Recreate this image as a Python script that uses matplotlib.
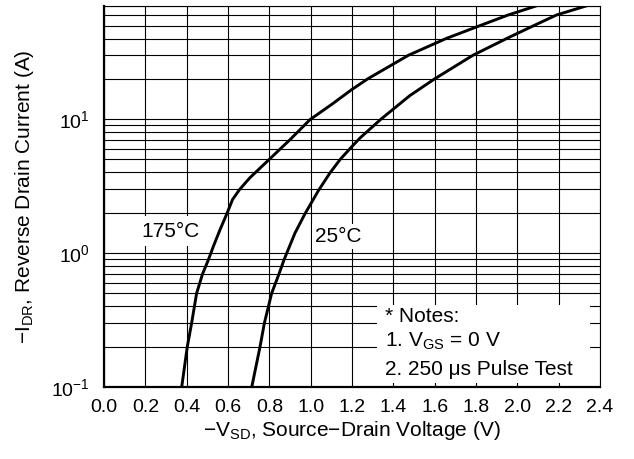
import matplotlib
matplotlib.use("Agg")
import matplotlib.pyplot as plt
from matplotlib.patches import Rectangle
from matplotlib.ticker import LogLocator, NullFormatter

plt.rcParams['font.family'] = ['Liberation Sans', 'DejaVu Sans']
plt.rcParams['mathtext.fontset'] = 'custom'
plt.rcParams['mathtext.rm'] = 'Liberation Sans'
plt.rcParams['mathtext.it'] = 'Liberation Sans'
plt.rcParams['mathtext.bf'] = 'Liberation Sans:bold'

# Data
v_175 = [0.376, 0.403, 0.424, 0.448, 0.477, 0.505, 0.529, 0.561, 0.594, 0.622,
         0.655, 0.705, 0.795, 0.900, 0.997, 1.102, 1.198, 1.276, 1.473, 1.655,
         1.820, 1.956, 2.090]
i_175 = [0.1, 0.2, 0.3, 0.5, 0.7, 0.89, 1.12, 1.49, 1.96, 2.51,
         2.97, 3.64, 4.93, 7.03, 9.93, 12.9, 16.6, 20.0, 30.0, 40.0,
         50.0, 60.0, 70.0]
v_25 = [0.715, 0.755, 0.776, 0.811, 0.847, 0.871, 0.924, 0.972, 1.037, 1.093,
        1.142, 1.198, 1.239, 1.340, 1.480, 1.600, 1.785, 1.948, 2.080, 2.190,
        2.332]
i_25 = [0.1, 0.2, 0.3, 0.5, 0.7, 0.89, 1.41, 1.96, 2.92, 3.96,
        4.99, 6.21, 7.24, 10.0, 15.0, 20.0, 30.0, 40.0, 50.0, 60.0,
        70.0]
x_ticks = [0.0, 0.2, 0.4, 0.6, 0.8, 1.0, 1.2, 1.4, 1.6, 1.8, 2.0, 2.2, 2.4]
x_ticklabels = ['0.0', '0.2', '0.4', '0.6', '0.8', '1.0', '1.2', '1.4', '1.6', '1.8', '2.0', '2.2', '2.4']
curve_labels = ['175°C', '25°C']
notes = ['* Notes:', '1. V$_{\\mathrm{GS}}$ = 0 V', '2. 250 μs Pulse Test']

W, H = 634, 459
fig = plt.figure(figsize=(W / 100, H / 100), dpi=100)
ax = fig.add_axes([104 / W, 1 - 387 / H, 496 / W, 381 / H])

ax.set_yscale('log')
ax.set_xlim(0.0, 2.4)
ax.set_ylim(0.1, 70)

ax.set_xticks(x_ticks)
ax.set_xticklabels(x_ticklabels)
ax.yaxis.set_major_locator(LogLocator(base=10, numticks=10))
ax.yaxis.set_minor_locator(LogLocator(base=10, subs=[2, 3, 4, 5, 6, 7, 8, 9], numticks=10))
ax.yaxis.set_minor_formatter(NullFormatter())

ax.grid(True, which='both', color='black', linewidth=0.8, zorder=0)
ax.set_axisbelow(True)
ax.tick_params(which='both', length=0, labelsize=14)
ax.tick_params(axis='x', pad=9)
ax.tick_params(axis='y', pad=10)

for s in ['left', 'bottom']:
    ax.spines[s].set_linewidth(1.6)
for s in ['top', 'right']:
    ax.spines[s].set_linewidth(0.8)

ax.plot(v_175, i_175, color='black', linewidth=2.1, zorder=3, solid_joinstyle='round')
ax.plot(v_25, i_25, color='black', linewidth=2.1, zorder=3, solid_joinstyle='round')

ax.text(0.321, 1.46, curve_labels[0], fontsize=15, ha='center', va='center',
        bbox=dict(facecolor='white', edgecolor='none', pad=4), zorder=2)
ax.text(1.132, 1.33, curve_labels[1], fontsize=15, ha='center', va='center',
        bbox=dict(facecolor='white', edgecolor='none', pad=2), zorder=2)

ax.add_patch(Rectangle((0.550, 0.0105), 0.430, 0.2045, transform=ax.transAxes,
                       facecolor='white', edgecolor='none', zorder=2))
for txt, yb in zip(notes, [0.171, 0.106, 0.0315]):
    ax.text(0.567, yb, txt, transform=ax.transAxes, fontsize=15,
            ha='left', va='baseline', zorder=4)

ax.set_xlabel('−V$_{\\mathrm{SD}}$, Source−Drain Voltage (V)', fontsize=15)
ax.set_ylabel('−I$_{\\mathrm{DR}}$, Reverse Drain Current (A)', fontsize=15)
ax.xaxis.set_label_coords(0.5, -0.085)
ax.yaxis.set_label_coords(-0.137, 0.5)

fig.savefig('out.png', dpi=100)
